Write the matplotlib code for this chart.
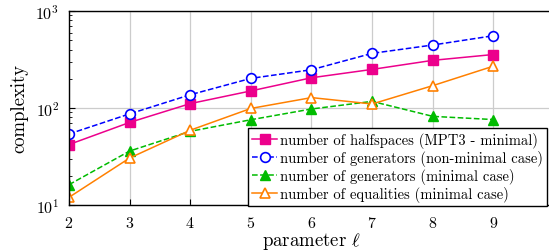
import matplotlib
matplotlib.use("Agg")
import matplotlib.pyplot as plt

params = [2, 3, 4, 5, 6, 7, 8, 9]
halfspaces = [42, 71, 111, 150, 205, 250, 310, 356]
gen_nonmin = [54, 87, 137, 202, 248, 366, 446, 556]
gen_min = [16.2, 36, 57.5, 75.7, 97.7, 117, 82, 76]
equalities = [12, 30.5, 59, 99, 128, 110, 170, 270]

labels = ["number of halfspaces (MPT3 - minimal)",
          "number of generators (non-minimal case)",
          "number of generators (minimal case)",
          "number of equalities (minimal case)"]
xticks = [2, 3, 4, 5, 6, 7, 8, 9]

plt.rcParams['font.family'] = ['cmr10', 'DejaVu Serif']
plt.rcParams['mathtext.fontset'] = 'cm'
plt.rcParams['axes.formatter.use_mathtext'] = True

fig = plt.figure(figsize=(5.49, 2.53), dpi=100)
ax = fig.add_axes([69/549, 47/253, 485/549, 194/253])

magenta = '#EC008C'
blue = '#0000FF'
green = '#00BB00'
orange = '#FF8000'

ax.plot(params, halfspaces, '-', color=magenta, marker='s', ms=7, mfc=magenta,
        mec=magenta, lw=1.1, label=labels[0])
ax.plot(params, gen_nonmin, '--', color=blue, marker='o', ms=7, mfc='white',
        mec=blue, mew=1.2, lw=1.1, label=labels[1])
ax.plot(params, gen_min, '--', color=green, marker='^', ms=7.5, mfc=green,
        mec=green, lw=1.1, label=labels[2])
ax.plot(params, equalities, '-', color=orange, marker='^', ms=7.5, mfc='white',
        mec=orange, mew=1.2, lw=1.1, label=labels[3])

ax.set_yscale('log')
ax.set_ylim(10, 1000)
ax.set_xlim(2, 10)
ax.set_xticks(xticks)
ax.set_xticklabels([f"${t}$" for t in xticks])
ax.grid(True, which='major', color='#cccccc', lw=0.9)
ax.set_axisbelow(True)
ax.tick_params(axis='both', which='both', direction='in', labelsize=11.5)
ax.tick_params(axis='both', which='major', length=4)
ax.tick_params(axis='x', which='major', pad=7)
ax.tick_params(axis='y', which='major', pad=7)
ax.tick_params(axis='y', which='minor', length=2.5)
ax.tick_params(axis='x', which='minor', bottom=False)
ax.tick_params(top=False, right=False)
for s in ax.spines.values():
    s.set_linewidth(1.0)

ax.set_xlabel(r"parameter $\ell$", fontsize=13.5, labelpad=0)
ax.set_ylabel("complexity", fontsize=13.5, labelpad=5)

leg = ax.legend(loc='lower left', bbox_to_anchor=(248/549, 46/253),
                bbox_transform=fig.transFigure, fontsize=10.5, frameon=True,
                fancybox=False, edgecolor='black', framealpha=1,
                handlelength=1.7, handletextpad=0.2, borderpad=0.3,
                labelspacing=0.12, borderaxespad=0)
leg.get_frame().set_linewidth(1.0)

fig.savefig("out.png", dpi=100)
